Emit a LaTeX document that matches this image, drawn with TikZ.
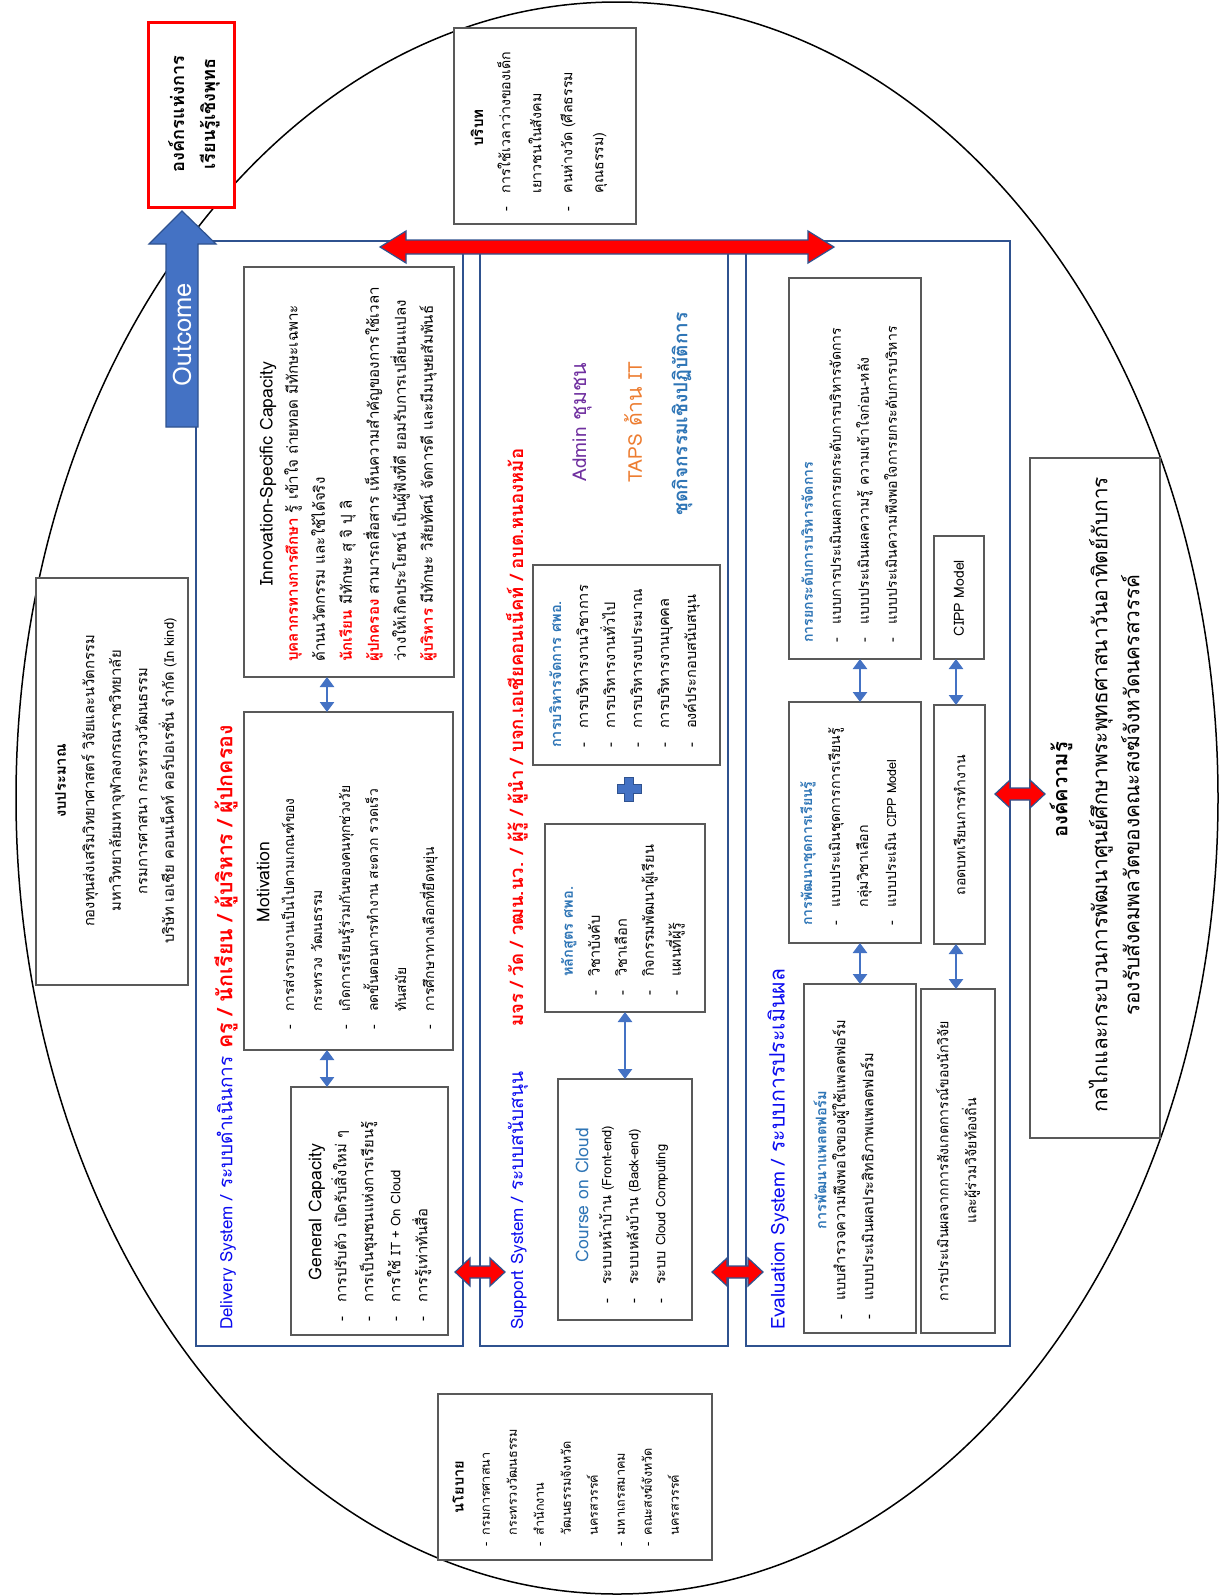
\documentclass[tikz,border=0pt]{standalone}
\usepackage{fontspec}
\setmainfont[Script=Thai, Scale=1.12]{Loma}
\newfontfamily\lat{Loma}
\usetikzlibrary{arrows.meta,calc}
\definecolor{colblue}{RGB}{47,82,143}
\definecolor{lblue}{RGB}{68,114,196}
\definecolor{tblue}{RGB}{46,117,182}
\definecolor{dblue}{RGB}{10,10,240}
\definecolor{thred}{RGB}{255,0,0}
\definecolor{purp}{RGB}{112,48,160}
\definecolor{orng}{RGB}{237,125,49}
\definecolor{boxgray}{RGB}{89,89,89}
\newcommand{\fs}[2]{\fontsize{#1}{#2}\selectfont}
\newcommand{\la}[1]{{\lat #1}}
\newcommand{\dd}{\makebox[1.3em][l]{-}}
\newcommand{\ind}{\hspace*{1.3em}}
\newcommand{\pd}{\makebox[0.9em][l]{-}}
\newcommand{\pind}{\hspace*{0.9em}}
\newcommand{\rb}[1]{\textcolor{thred}{\bfseries #1}}
\newcommand{\bx}[6][boxs]{\node[#1, minimum width={#5-#3}, minimum height={#6-#4}] (#2) at ({(#3+#5)/2},{(#4+#6)/2}) {};}
\newcommand{\redh}[6]{\filldraw[redarr] (#1,#3) -- ({#1+#6},{#3-#4}) -- ({#1+#6},{#3-#5}) -- ({#2-#6},{#3-#5}) -- ({#2-#6},{#3-#4}) -- (#2,#3) -- ({#2-#6},{#3+#4}) -- ({#2-#6},{#3+#5}) -- ({#1+#6},{#3+#5}) -- ({#1+#6},{#3+#4}) -- cycle;}
\tikzset{
  boxs/.style={draw=boxgray, line width=1.2pt, fill=white, inner sep=0pt, outer sep=0pt},
  colbox/.style={draw=colblue, line width=1.5pt, inner sep=0pt, outer sep=0pt},
  redbox/.style={draw=red, line width=3pt, fill=white, inner sep=0pt, outer sep=0pt},
  tx/.style={rotate=90, inner sep=0pt, align=left, font=\fs{13}{27}},
  ttl/.style={rotate=90, inner sep=0pt, font=\lat\fs{17.6}{20}},
  barrow/.style={draw=lblue, line width=2.5pt, {Triangle[width=14pt,length=10pt]}-{Triangle[width=14pt,length=10pt]}},
  redarr/.style={fill=red, draw=colblue, line width=1.2pt},
}
\begin{document}
\begin{tikzpicture}[x=1pt, y=-1pt]
\useasboundingbox (0,0) rectangle (1223,1596);
\fill[white] (0,0) rectangle (1223,1596);
% big ellipse
\draw[line width=1.5pt] (617,798) ellipse [x radius=601pt, y radius=796pt];

% columns
\bx[colbox]{del}{196}{241}{463}{1346}
\bx[colbox]{sup}{480}{241}{728}{1346}
\bx[colbox]{eva}{746}{241}{1010}{1346}

% outer boxes
\bx[redbox]{org}{148}{22}{234}{207}
\node[tx, align=center, font=\fs{16.2}{31}\bfseries] at (194,114) {องค์กรแห่งการ\\เรียนรู้เชิงพุทธ};

\bx{ctx}{454}{28}{636}{224}
\node[tx, font=\fs{13.5}{20}\bfseries] at (477,128) {บริบท};
\node[tx, anchor=north west, font=\fs{12.7}{31}] at (497,212) {\dd การใช้เวลาว่างของเด็ก\\\ind เยาวชนในสังคม\\\dd คนห่างวัด (ศีลธรรม\\\ind คุณธรรม)};

\bx{bud}{36}{578}{188}{985}
\node[tx, align=center, font=\fs{13.2}{26.5}] at (116,781) {\textbf{งบประมาณ}\\[2pt]กองทุนส่งเสริมวิทยาศาสตร์ วิจัยและนวัตกรรม\\มหาวิทยาลัยมหาจุฬาลงกรณราชวิทยาลัย\\กรมการศาสนา กระทรวงวัฒนธรรม\\บริษัท เอเชีย คอนเน็คท์ คอร์ปอเรชั่น จำกัด \la{(In kind)}};

\bx{pol}{438}{1394}{712}{1560}
\node[tx, font=\fs{13}{20}\bfseries] at (458,1487) {นโยบาย};
\node[tx, anchor=north west, font=\fs{11.3}{27}] at (482,1547) {\pd กรมการศาสนา\\\pind กระทรวงวัฒนธรรม\\\pd สำนักงาน\\\pind วัฒนธรรมจังหวัด\\\pind นครสวรรค์\\\pd มหาเถรสมาคม\\\pd คณะสงฆ์จังหวัด\\\pind นครสวรรค์};

\bx{kno}{1030}{458}{1160}{1138}
\node[tx, font=\fs{18}{22}\bfseries] at (1061,790) {องค์ความรู้};
\node[tx, align=center, font=\fs{18.6}{32}] at (1114,795) {กลไกและกระบวนการพัฒนาศูนย์ศึกษาพระพุทธศาสนาวันอาทิตย์กับการ\\รองรับสังคมพลวัตของคณะสงฆ์จังหวัดนครสวรรค์};

% Outcome arrow
\filldraw[fill=lblue, draw=colblue, line width=1.2pt] (182,211) -- (216,244) -- (198,244) -- (198,427) -- (166,427) -- (166,244) -- (149,244) -- cycle;
\node[rotate=90, text=white, font=\lat\fs{25.5}{28}] (outc) at (182,335) {Outcome};

% top red double arrow
\redh{380}{834}{247}{16}{7}{26}

% ---------- Delivery ----------
\bx{inn}{244}{267}{454}{677}
\node[ttl] at (268,474) {Innovation-Specific Capacity};
\node[tx, anchor=north west, font=\fs{13.5}{27}] at (284,662) {\rb{บุคลากรทางการศึกษา} รู้ เข้าใจ ถ่ายทอด มีทักษะเฉพาะ\\ด้านนวัตกรรม และใช้ได้จริง\\\rb{นักเรียน} มีทักษะ สุ จิ ปุ ลิ\\\rb{ผู้ปกครอง} สามารถสื่อสาร เห็นความสำคัญของการใช้เวลา\\ว่างให้เกิดประโยชน์ เป็นผู้ฟังที่ดี ยอมรับการเปลี่ยนแปลง\\\rb{ผู้บริหาร} มีทักษะ วิสัยทัศน์ จัดการดี และมีมนุษยสัมพันธ์};

\bx{mot}{244}{712}{453}{1050}
\node[ttl] at (263,882) {Motivation};
\node[tx, anchor=north west, font=\fs{12.4}{28}] at (281,1030) {\dd การส่งรายงานเป็นไปตามเกณฑ์ของ\\\ind กระทรวง วัฒนธรรม\\\dd เกิดการเรียนรู้ร่วมกันของคนทุกช่วงวัย\\\dd ลดขั้นตอนการทำงาน สะดวก รวดเร็ว\\\ind ทันสมัย\\\dd การศึกษาทางเลือกที่ยืดหยุ่น};

\bx{gen}{291}{1087}{448}{1335}
\node[ttl] at (317,1212) {General Capacity};
\node[tx, anchor=north west, font=\fs{13.2}{27}] at (331,1322) {\dd การปรับตัว เปิดรับสิ่งใหม่ ๆ\\\dd การเป็นชุมชนแห่งการเรียนรู้\\\dd การใช้ \la{IT + On Cloud}\\\dd การรู้เท่าทันสื่อ};

\draw[barrow] ([xshift=-22pt]inn.south) -- ([xshift=-21.5pt]mot.north);
\draw[barrow] ([xshift=-21.5pt]mot.south) -- ([xshift=-42.5pt]gen.north);

\node[tx, anchor=west, font=\fs{17}{20}] at (226,1330) {\textcolor{dblue}{\la{Delivery System /} ระบบดำเนินการ}\hspace{8pt}{\fs{19}{20}\rb{ครู / นักเรียน / ผู้บริหาร / ผู้ปกครอง}}};

% ---------- Support ----------
\node[tx, anchor=west, font=\fs{17}{20}] at (517,1330) {\textcolor{dblue}{\la{Support System /} ระบบสนับสนุน}\hspace{45pt}{\fs{16.5}{20}\rb{มจร / วัด / วฒน.นว. / ผู้รู้ / ผู้นำ / บจก.เอเชียคอนเน็คท์ / อบต.หนองหม้อ}}};

\node[tx, font=\fs{19}{22}, text=purp] at (582,422) {\la{Admin} ชุมชน};
\node[tx, font=\fs{19}{22}, text=orng] at (633,422) {\la{TAPS} ด้าน \la{IT}};
\node[tx, font=\fs{17}{20}\bfseries, text=tblue] at (682,414) {ชุดกิจกรรมเชิงปฏิบัติการ};

\bx{man}{533}{565}{720}{765}
\node[tx, anchor=north west, font=\fs{13}{27}] at (549,748) {\textcolor{tblue}{\bfseries การบริหารจัดการ ศพอ.}\\\dd การบริหารงานวิชาการ\\\dd การบริหารงานทั่วไป\\\dd การบริหารงบประมาณ\\\dd การบริหารงานบุคคล\\\dd องค์ประกอบสนับสนุน};

\filldraw[fill=lblue, draw=colblue, line width=0.8pt] (624.5,777) -- (633.5,777) -- (633.5,784.5) -- (641,784.5) -- (641,793.5) -- (633.5,793.5) -- (633.5,801) -- (624.5,801) -- (624.5,793.5) -- (617,793.5) -- (617,784.5) -- (624.5,784.5) -- cycle;

\bx{cur}{545}{824}{705}{1012}
\node[tx, anchor=north west, font=\fs{13}{27}] at (561,996) {\ind\textcolor{tblue}{\bfseries หลักสูตร ศพอ.}\\\dd วิชาบังคับ\\\dd วิชาเลือก\\\dd กิจกรรมพัฒนาผู้เรียน\\\dd แผนที่ผู้รู้};

\bx{crs}{558}{1079}{692}{1320}
\node[ttl, text=tblue] at (582,1195) {Course on Cloud};
\node[tx, anchor=north west, font=\fs{13}{27}] at (599,1304) {\dd ระบบหน้าบ้าน \la{(Front-end)}\\\dd ระบบหลังบ้าน \la{(Back-end)}\\\dd ระบบ \la{Cloud Computing}};

\draw[barrow] (cur.south) -- (crs.north);

% ---------- Evaluation ----------
\node[tx, anchor=west, font=\fs{19}{22}] at (778,1330) {\textcolor{dblue}{\la{Evaluation System /} ระบบการประเมินผล}};

\bx{upg}{789}{278}{921}{659}
\node[tx, anchor=north west, font=\fs{12.6}{28}] at (801,643) {\textcolor{tblue}{\bfseries การยกระดับการบริหารจัดการ}\\\dd แบบการประเมินผลการยกระดับการบริหารจัดการ\\\dd แบบประเมินผลความรู้ ความเข้าใจก่อน-หลัง\\\dd แบบประเมินความพึงพอใจการยกระดับการบริหาร};

\bx{cip}{934}{536}{984}{659}
\node[tx, font=\lat\fs{14}{20}] at (959,598) {CIPP Model};

\bx{dev}{789}{702}{921}{943}
\node[tx, anchor=north west, font=\fs{12.6}{28}] at (800,926) {\textcolor{tblue}{\bfseries การพัฒนาชุดการเรียนรู้}\\\dd แบบประเมินชุดการการเรียนรู้\\\ind กลุ่มวิชาเลือก\\\dd แบบประเมิน \la{CIPP Model}};

\bx{les}{934}{705}{985}{944}
\node[tx, font=\fs{12.6}{20}] at (959.5,825) {ถอดบทเรียนการทำงาน};

\bx{plt}{804}{984}{916}{1333}
\node[tx, font=\fs{13}{20}\bfseries, text=tblue] at (820,1160) {การพัฒนาแพลตฟอร์ม};
\node[tx, anchor=north west, font=\fs{13}{28}] at (832,1320) {\dd แบบสำรวจความพึงพอใจของผู้ใช้แพลตฟอร์ม\\\dd แบบประเมินผลประสิทธิภาพแพลตฟอร์ม};

\bx{obs}{921}{989}{995}{1333}
\node[tx, align=center, font=\fs{12.6}{28}] at (958,1161) {การประเมินผลจากการสังเกตการณ์ของนักวิจัย\\และผู้ร่วมวิจัยท้องถิ่น};

\draw[barrow] ([xshift=5pt]upg.south) -- ([xshift=5pt]dev.north);
\draw[barrow] ([xshift=5pt]dev.south) -- (plt.north);
\draw[barrow] ([xshift=-3pt]cip.south) -- ([xshift=-3.5pt]les.north);
\draw[barrow] ([xshift=-3.5pt]les.south) -- ([xshift=-2pt]obs.north);

% red connectors between columns
\redh{455}{505}{1272}{14}{6}{15}
\redh{712}{763}{1272}{14}{6}{15}
\redh{995}{1045}{794}{14}{6}{15}
\end{tikzpicture}
\end{document}
